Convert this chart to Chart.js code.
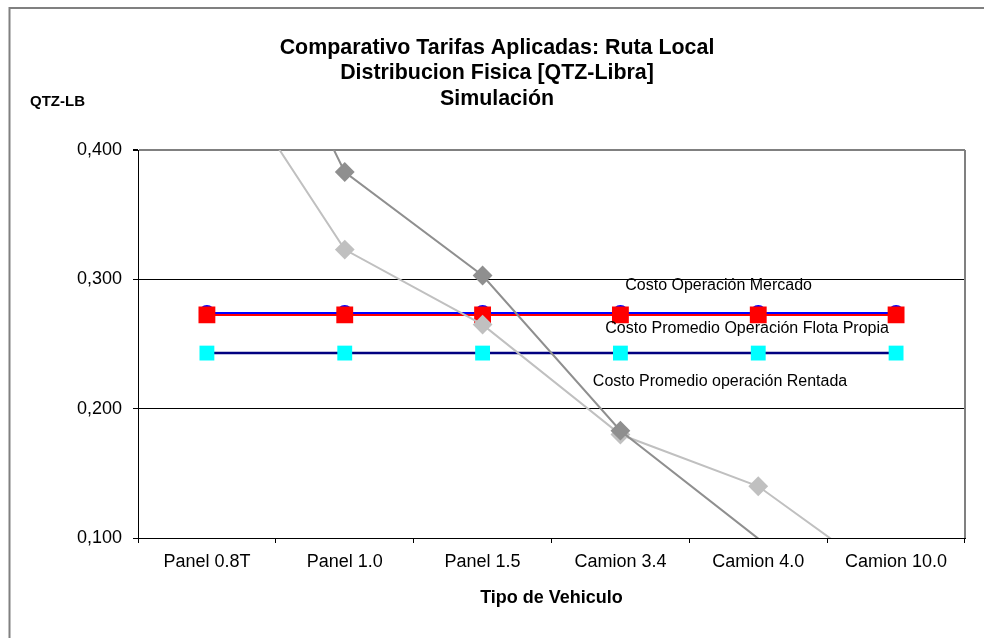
<!DOCTYPE html>
<html>
<head>
<meta charset="utf-8">
<script src="https://cdn.jsdelivr.net/npm/chart.js@4"></script>
<style>
  html, body { margin: 0; padding: 0; background: #ffffff; }
  #wrap { position: relative; width: 984px; height: 638px; overflow: hidden; }
  canvas { display: block; }
</style>
</head>
<body>
<div id="wrap"><canvas id="c" width="984" height="638"></canvas></div>
<script>
// ---- data ----
const categories = ['Panel 0.8T', 'Panel 1.0', 'Panel 1.5', 'Camion 3.4', 'Camion 4.0', 'Camion 10.0'];
const costoMercado = [0.274, 0.274, 0.274, 0.274, 0.274, 0.274];
const costoFlotaPropia = [0.2725, 0.2725, 0.2725, 0.2725, 0.2725, 0.2725];
const costoRentada = [0.243, 0.243, 0.243, 0.243, 0.243, 0.243];
const tarifaOscura = [0.600, 0.383, 0.303, 0.183, 0.0995, 0.060];
const tarifaClara = [0.486, 0.323, 0.265, 0.180, 0.140, 0.063];
const yTicks = [0.1, 0.2, 0.3, 0.4];
const titleLines = ['Comparativo Tarifas Aplicadas: Ruta Local', 'Distribucion Fisica [QTZ-Libra]', 'Simulación'];
const yAxisLabel = 'QTZ-LB';
const xAxisLabel = 'Tipo de Vehiculo';
const seriesNotes = ['Costo Operación Mercado', 'Costo Promedio Operación Flota Propia', 'Costo Promedio operación Rentada'];
// note anchors (category index, value)
const noteX = [3.035, 2.89, 2.80];
const noteY = [0.2948, 0.2616, 0.2206];

const FONT = "'Liberation Sans', Arial, sans-serif";
const Y_MIN = 0.1, Y_MAX = 0.4;

const decorPlugin = {
  id: 'decor',
  beforeDraw(chart) {
    const ctx = chart.ctx;
    ctx.save();
    ctx.strokeStyle = '#808080';
    ctx.lineWidth = 2;
    ctx.beginPath();
    ctx.moveTo(9.5, 700); ctx.lineTo(9.5, 8); ctx.lineTo(1000, 8);
    ctx.stroke();
    ctx.restore();
  },
  afterDraw(chart) {
    const ctx = chart.ctx;
    const a = chart.chartArea;
    const xs = chart.scales.x, ys = chart.scales.y;
    ctx.save();
    ctx.strokeStyle = '#808080';
    ctx.lineWidth = 2;
    ctx.beginPath();
    ctx.moveTo(a.right, a.top); ctx.lineTo(a.right, a.bottom);
    ctx.stroke();
    ctx.fillStyle = '#000';
    ctx.font = 'bold 15px ' + FONT;
    ctx.textBaseline = 'middle';
    ctx.textAlign = 'left';
    ctx.fillText(yAxisLabel, 30, 102);
    ctx.font = '16px ' + FONT;
    seriesNotes.forEach((t, i) => {
      ctx.fillText(t, xs.getPixelForValue(noteX[i]), ys.getPixelForValue(noteY[i]));
    });
    ctx.restore();
  }
};

const inRange = (r) => ctx => {
  const v = ctx.raw;
  return (v < Y_MIN || v > Y_MAX) ? 0 : r;
};

new Chart(document.getElementById('c'), {
  type: 'line',
  data: {
    labels: categories,
    datasets: [
      { label: 'Tarifa A', data: tarifaOscura, borderColor: '#8f8f8f', backgroundColor: '#8f8f8f',
        borderWidth: 2, pointStyle: 'rectRot', pointRadius: inRange(8.5), pointHoverRadius: inRange(8.5), tension: 0, clip: 0 },
      { label: 'Tarifa B', data: tarifaClara, borderColor: '#c0c0c0', backgroundColor: '#c0c0c0',
        borderWidth: 2, pointStyle: 'rectRot', pointRadius: inRange(8.5), pointHoverRadius: inRange(8.5), tension: 0, clip: 0 },
      { label: seriesNotes[1], data: costoFlotaPropia, borderColor: '#ff0000', backgroundColor: '#ff0000',
        borderWidth: 2, pointStyle: 'rect', pointRadius: 10.5, pointHoverRadius: 10.5, clip: 0 },
      { label: seriesNotes[0], data: costoMercado, borderColor: '#0000ff', backgroundColor: '#0000ff',
        borderWidth: 2, pointStyle: 'circle', pointRadius: 7, pointHoverRadius: 7, clip: 0 },
      { label: seriesNotes[2], data: costoRentada, borderColor: '#000080', backgroundColor: '#00ffff',
        borderWidth: 2.5, pointStyle: 'rect', pointRadius: 10.5, pointHoverRadius: 10.5, pointBorderWidth: 0, clip: 0 }
    ]
  },
  options: {
    responsive: false,
    animation: false,
    events: [],
    layout: { padding: { left: 29, right: 19, top: 0, bottom: 0 } },
    plugins: {
      legend: { display: false },
      tooltip: { enabled: false },
      title: {
        display: true,
        text: titleLines,
        color: '#000',
        font: { family: FONT, size: 21.4, weight: 'bold', lineHeight: 1.2 },
        padding: { top: 35, bottom: 38 }
      }
    },
    scales: {
      x: {
        type: 'category',
        offset: true,
        grid: { display: true, drawOnChartArea: false, drawTicks: true, tickLength: 5, offset: true, tickColor: '#000' },
        border: { display: true, color: '#000', width: 1 },
        ticks: { color: '#000', font: { family: FONT, size: 18 }, padding: 8, maxRotation: 0, autoSkip: false },
        title: { display: true, text: xAxisLabel, color: '#000', font: { family: FONT, size: 18, weight: 'bold' }, padding: { top: 0, bottom: 29 } },
        afterFit(scale) { scale.height = 100; }
      },
      y: {
        min: Y_MIN,
        max: Y_MAX,
        afterBuildTicks(scale) { scale.ticks = yTicks.map(v => ({ value: v })); },
        grid: {
          drawTicks: true, tickLength: 5, tickColor: '#000',
          color: ctx => (ctx.tick && Math.abs(ctx.tick.value - Y_MAX) < 1e-9) ? '#808080' : '#000',
          lineWidth: ctx => (ctx.tick && Math.abs(ctx.tick.value - Y_MAX) < 1e-9) ? 2 : 1
        },
        border: { display: true, color: '#000', width: 1 },
        ticks: {
          color: '#000', font: { family: FONT, size: 18 }, padding: 11,
          callback: v => Number(v).toFixed(3).replace('.', ',')
        },
        afterFit(scale) { scale.width = 109; }
      }
    }
  },
  plugins: [decorPlugin]
});
</script>
</body>
</html>
